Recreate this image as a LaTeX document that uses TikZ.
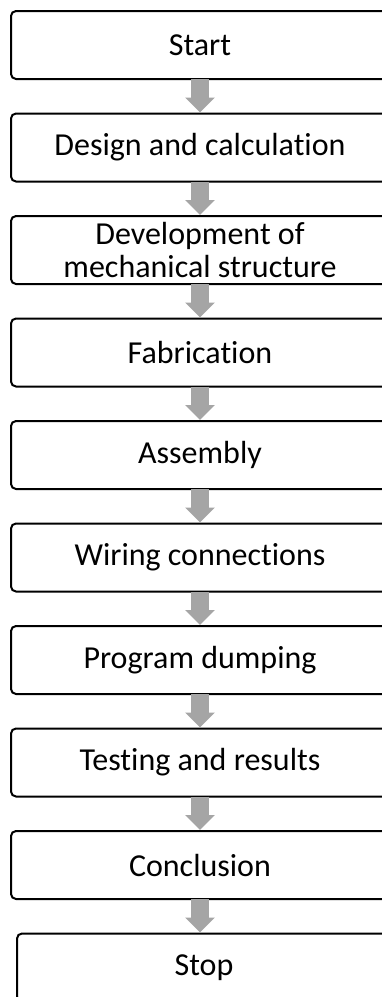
\documentclass[tikz,border=0pt]{standalone}
\usepackage{fontspec}
\setmainfont{Carlito}[Ligatures=NoCommon]
\usetikzlibrary{arrows.meta}
\definecolor{flowgray}{HTML}{A5A5A5}
\tikzset{
  stepbox/.style={draw=black, line width=2pt, rounded corners=5pt, fill=white,
    minimum width=378pt, minimum height=68pt, inner sep=0pt, align=center,
    font=\fontsize{32}{32.5}\selectfont},
  flowarrow/.style={draw=flowgray, line width=18pt,
    -{Triangle[width=29pt,length=15pt]}, shorten <=-1pt}
}
\begin{document}
\begin{tikzpicture}[x=1pt,y=-1pt]
  \useasboundingbox (0,0) rectangle (382,997);
  \clip (0,0) rectangle (382,997);
  \fill[white] (0,0) rectangle (382,997);
  \node[stepbox] (start) at (200,45)    {Start};
  \node[stepbox] (design) at (200,147.5) {Design and calculation};
  \node[stepbox] (devel) at (200,250)   {Development of\\mechanical structure};
  \node[stepbox] (fab) at (200,352.5)   {Fabrication};
  \node[stepbox] (asm) at (200,455)     {Assembly};
  \node[stepbox] (wiring) at (200,557.5) {Wiring connections};
  \node[stepbox] (prog) at (200,660)    {Program dumping};
  \node[stepbox] (test) at (200,762.5)  {Testing and results};
  \node[stepbox] (concl) at (200,865)   {Conclusion};
  \node[stepbox, minimum width=374pt] (stop) at (204,967.5) {Stop};
  \foreach \a/\b in {start/design, design/devel, devel/fab, fab/asm,
                     asm/wiring, wiring/prog, prog/test, test/concl}
    \draw[flowarrow] (\a.south) -- (\b.north);
  \draw[flowarrow] (concl.south) -- (concl.south |- stop.north);
\end{tikzpicture}
\end{document}
